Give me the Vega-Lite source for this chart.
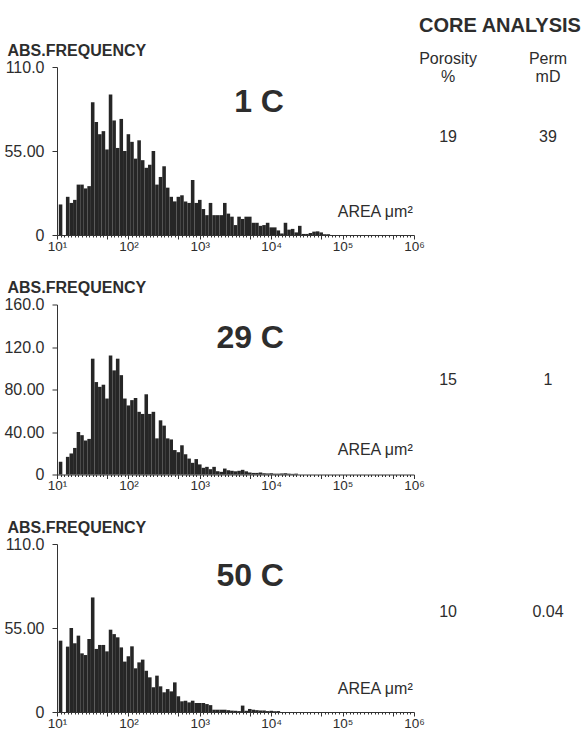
{
  "$schema": "https://vega.github.io/schema/vega-lite/v6.json",
  "padding": {"top": 15, "left": 3, "right": 0, "bottom": 0},
  "background": "white",
  "config": {
    "view": {"stroke": null},
    "font": "Liberation Sans",
    "axis": {"grid": false, "domainColor": "#333333", "tickColor": "#333333", "labelColor": "#2d2d2d", "titleColor": "#2d2d2d", "labelFont": "Liberation Sans", "titleFont": "Liberation Sans"},
    "text": {"font": "Liberation Sans", "color": "#2d2d2d"}
  },
  "datasets": {
    "edges": [
      {"k":0,"lo":10.593,"hi":11.885},{"k":1,"lo":11.885,"hi":13.335},{"k":2,"lo":13.335,"hi":14.962},{"k":3,"lo":14.962,"hi":16.788},{"k":4,"lo":16.788,"hi":18.836},{"k":5,"lo":18.836,"hi":21.135},{"k":6,"lo":21.135,"hi":23.714},{"k":7,"lo":23.714,"hi":26.607},{"k":8,"lo":26.607,"hi":29.854},{"k":9,"lo":29.854,"hi":33.497},
      {"k":10,"lo":33.497,"hi":37.584},{"k":11,"lo":37.584,"hi":42.170},{"k":12,"lo":42.170,"hi":47.315},{"k":13,"lo":47.315,"hi":53.088},{"k":14,"lo":53.088,"hi":59.566},{"k":15,"lo":59.566,"hi":66.834},{"k":16,"lo":66.834,"hi":74.989},{"k":17,"lo":74.989,"hi":84.140},{"k":18,"lo":84.140,"hi":94.406},{"k":19,"lo":94.406,"hi":105.93},
      {"k":20,"lo":105.93,"hi":118.85},{"k":21,"lo":118.85,"hi":133.35},{"k":22,"lo":133.35,"hi":149.62},{"k":23,"lo":149.62,"hi":167.88},{"k":24,"lo":167.88,"hi":188.36},{"k":25,"lo":188.36,"hi":211.35},{"k":26,"lo":211.35,"hi":237.14},{"k":27,"lo":237.14,"hi":266.07},{"k":28,"lo":266.07,"hi":298.54},{"k":29,"lo":298.54,"hi":334.97},
      {"k":30,"lo":334.97,"hi":375.84},{"k":31,"lo":375.84,"hi":421.70},{"k":32,"lo":421.70,"hi":473.15},{"k":33,"lo":473.15,"hi":530.88},{"k":34,"lo":530.88,"hi":595.66},{"k":35,"lo":595.66,"hi":668.34},{"k":36,"lo":668.34,"hi":749.89},{"k":37,"lo":749.89,"hi":841.40},{"k":38,"lo":841.40,"hi":944.06},{"k":39,"lo":944.06,"hi":1059.3},
      {"k":40,"lo":1059.3,"hi":1188.5},{"k":41,"lo":1188.5,"hi":1333.5},{"k":42,"lo":1333.5,"hi":1496.2},{"k":43,"lo":1496.2,"hi":1678.8},{"k":44,"lo":1678.8,"hi":1883.6},{"k":45,"lo":1883.6,"hi":2113.5},{"k":46,"lo":2113.5,"hi":2371.4},{"k":47,"lo":2371.4,"hi":2660.7},{"k":48,"lo":2660.7,"hi":2985.4},{"k":49,"lo":2985.4,"hi":3349.7},
      {"k":50,"lo":3349.7,"hi":3758.4},{"k":51,"lo":3758.4,"hi":4217.0},{"k":52,"lo":4217.0,"hi":4731.5},{"k":53,"lo":4731.5,"hi":5308.8},{"k":54,"lo":5308.8,"hi":5956.6},{"k":55,"lo":5956.6,"hi":6683.4},{"k":56,"lo":6683.4,"hi":7498.9},{"k":57,"lo":7498.9,"hi":8414.0},{"k":58,"lo":8414.0,"hi":9440.6},{"k":59,"lo":9440.6,"hi":10593},
      {"k":60,"lo":10593,"hi":11885},{"k":61,"lo":11885,"hi":13335},{"k":62,"lo":13335,"hi":14962},{"k":63,"lo":14962,"hi":16788},{"k":64,"lo":16788,"hi":18836},{"k":65,"lo":18836,"hi":21135},{"k":66,"lo":21135,"hi":23714},{"k":67,"lo":23714,"hi":26607},{"k":68,"lo":26607,"hi":29854},{"k":69,"lo":29854,"hi":33497},
      {"k":70,"lo":33497,"hi":37584},{"k":71,"lo":37584,"hi":42170},{"k":72,"lo":42170,"hi":47315},{"k":73,"lo":47315,"hi":53088},{"k":74,"lo":53088,"hi":59566},{"k":75,"lo":59566,"hi":66834}
    ],
    "hist": [
      {"s":"1 C","k":0,"n":20},{"s":"1 C","k":2,"n":25},{"s":"1 C","k":3,"n":21},{"s":"1 C","k":4,"n":23},{"s":"1 C","k":5,"n":33},{"s":"1 C","k":6,"n":33},{"s":"1 C","k":7,"n":30.5},{"s":"1 C","k":8,"n":32},{"s":"1 C","k":9,"n":87},
      {"s":"1 C","k":10,"n":74},{"s":"1 C","k":11,"n":66},{"s":"1 C","k":12,"n":68},{"s":"1 C","k":13,"n":56},{"s":"1 C","k":14,"n":92},{"s":"1 C","k":15,"n":75},{"s":"1 C","k":16,"n":57},{"s":"1 C","k":17,"n":76},{"s":"1 C","k":18,"n":55},{"s":"1 C","k":19,"n":66},
      {"s":"1 C","k":20,"n":61},{"s":"1 C","k":21,"n":50},{"s":"1 C","k":22,"n":62},{"s":"1 C","k":23,"n":49},{"s":"1 C","k":24,"n":44},{"s":"1 C","k":25,"n":46},{"s":"1 C","k":26,"n":55},{"s":"1 C","k":27,"n":33},{"s":"1 C","k":28,"n":38},{"s":"1 C","k":29,"n":45},
      {"s":"1 C","k":30,"n":31},{"s":"1 C","k":31,"n":25},{"s":"1 C","k":32,"n":22},{"s":"1 C","k":33,"n":25},{"s":"1 C","k":34,"n":26},{"s":"1 C","k":35,"n":22},{"s":"1 C","k":36,"n":21},{"s":"1 C","k":37,"n":36},{"s":"1 C","k":38,"n":21},{"s":"1 C","k":39,"n":23},
      {"s":"1 C","k":40,"n":17},{"s":"1 C","k":41,"n":13},{"s":"1 C","k":42,"n":21},{"s":"1 C","k":43,"n":13},{"s":"1 C","k":44,"n":13},{"s":"1 C","k":45,"n":13},{"s":"1 C","k":46,"n":21},{"s":"1 C","k":47,"n":14},{"s":"1 C","k":48,"n":12},{"s":"1 C","k":49,"n":6.5},
      {"s":"1 C","k":50,"n":12},{"s":"1 C","k":51,"n":10.5},{"s":"1 C","k":52,"n":12},{"s":"1 C","k":53,"n":12},{"s":"1 C","k":54,"n":8},{"s":"1 C","k":55,"n":8},{"s":"1 C","k":56,"n":6},{"s":"1 C","k":57,"n":6.5},{"s":"1 C","k":58,"n":8},{"s":"1 C","k":59,"n":5},
      {"s":"1 C","k":60,"n":5},{"s":"1 C","k":61,"n":3},{"s":"1 C","k":62,"n":1},{"s":"1 C","k":63,"n":8},{"s":"1 C","k":64,"n":3.5},{"s":"1 C","k":65,"n":4},{"s":"1 C","k":66,"n":1.7},{"s":"1 C","k":67,"n":6},{"s":"1 C","k":68,"n":0.7},{"s":"1 C","k":69,"n":0.7},
      {"s":"1 C","k":70,"n":1.3},{"s":"1 C","k":71,"n":2.2},{"s":"1 C","k":72,"n":2.4},{"s":"1 C","k":73,"n":1.7},{"s":"1 C","k":74,"n":0.5},{"s":"1 C","k":75,"n":0.5},

      {"s":"29 C","k":0,"n":12},{"s":"29 C","k":2,"n":16.6},{"s":"29 C","k":3,"n":19.8},{"s":"29 C","k":4,"n":25},{"s":"29 C","k":5,"n":40},{"s":"29 C","k":6,"n":37},{"s":"29 C","k":7,"n":32},{"s":"29 C","k":8,"n":33.5},{"s":"29 C","k":9,"n":109},
      {"s":"29 C","k":10,"n":87},{"s":"29 C","k":11,"n":82.5},{"s":"29 C","k":12,"n":84.5},{"s":"29 C","k":13,"n":71.5},{"s":"29 C","k":14,"n":112},{"s":"29 C","k":15,"n":98},{"s":"29 C","k":16,"n":109},{"s":"29 C","k":17,"n":93.5},{"s":"29 C","k":18,"n":71.5},{"s":"29 C","k":19,"n":65},
      {"s":"29 C","k":20,"n":70},{"s":"29 C","k":21,"n":72},{"s":"29 C","k":22,"n":59},{"s":"29 C","k":23,"n":57},{"s":"29 C","k":24,"n":75.5},{"s":"29 C","k":25,"n":57},{"s":"29 C","k":26,"n":59},{"s":"29 C","k":27,"n":34},{"s":"29 C","k":28,"n":51},{"s":"29 C","k":29,"n":46},
      {"s":"29 C","k":30,"n":34},{"s":"29 C","k":31,"n":33},{"s":"29 C","k":32,"n":23},{"s":"29 C","k":33,"n":21},{"s":"29 C","k":34,"n":27.5},{"s":"29 C","k":35,"n":19},{"s":"29 C","k":36,"n":15},{"s":"29 C","k":37,"n":11},{"s":"29 C","k":38,"n":14.5},{"s":"29 C","k":39,"n":9.5},
      {"s":"29 C","k":40,"n":6.3},{"s":"29 C","k":41,"n":7.2},{"s":"29 C","k":42,"n":5},{"s":"29 C","k":43,"n":7.2},{"s":"29 C","k":44,"n":3.1},{"s":"29 C","k":45,"n":2.5},{"s":"29 C","k":46,"n":5.6},{"s":"29 C","k":47,"n":4},{"s":"29 C","k":48,"n":3.5},{"s":"29 C","k":49,"n":3},
      {"s":"29 C","k":50,"n":3.5},{"s":"29 C","k":51,"n":4.4},{"s":"29 C","k":52,"n":3},{"s":"29 C","k":53,"n":1.9},{"s":"29 C","k":54,"n":1.5},{"s":"29 C","k":55,"n":1.5},{"s":"29 C","k":56,"n":1.9},{"s":"29 C","k":57,"n":1.2},{"s":"29 C","k":58,"n":1},{"s":"29 C","k":59,"n":1.2},
      {"s":"29 C","k":60,"n":0.8},{"s":"29 C","k":61,"n":0.8},{"s":"29 C","k":62,"n":1},{"s":"29 C","k":63,"n":1.2},{"s":"29 C","k":64,"n":0.8},{"s":"29 C","k":65,"n":0.6},{"s":"29 C","k":66,"n":0.8},

      {"s":"50 C","k":0,"n":46.7},{"s":"50 C","k":2,"n":42.8},{"s":"50 C","k":3,"n":55},{"s":"50 C","k":4,"n":45},{"s":"50 C","k":5,"n":50},{"s":"50 C","k":6,"n":38.4},{"s":"50 C","k":7,"n":37.3},{"s":"50 C","k":8,"n":47.8},{"s":"50 C","k":9,"n":75},
      {"s":"50 C","k":10,"n":41.3},{"s":"50 C","k":11,"n":43.9},{"s":"50 C","k":12,"n":43.9},{"s":"50 C","k":13,"n":39.7},{"s":"50 C","k":14,"n":53.9},{"s":"50 C","k":15,"n":51},{"s":"50 C","k":16,"n":48.9},{"s":"50 C","k":17,"n":42.3},{"s":"50 C","k":18,"n":33},{"s":"50 C","k":19,"n":36.5},
      {"s":"50 C","k":20,"n":43},{"s":"50 C","k":21,"n":28.6},{"s":"50 C","k":22,"n":32.5},{"s":"50 C","k":23,"n":34.3},{"s":"50 C","k":24,"n":27},{"s":"50 C","k":25,"n":22.7},{"s":"50 C","k":26,"n":16.2},{"s":"50 C","k":27,"n":23.8},{"s":"50 C","k":28,"n":16.8},{"s":"50 C","k":29,"n":12.9},
      {"s":"50 C","k":30,"n":15},{"s":"50 C","k":31,"n":13.5},{"s":"50 C","k":32,"n":19.4},{"s":"50 C","k":33,"n":10.3},{"s":"50 C","k":34,"n":7},{"s":"50 C","k":35,"n":7.4},{"s":"50 C","k":36,"n":6.3},{"s":"50 C","k":37,"n":7.4},{"s":"50 C","k":38,"n":5.9},{"s":"50 C","k":39,"n":5.9},
      {"s":"50 C","k":40,"n":5.9},{"s":"50 C","k":41,"n":5.2},{"s":"50 C","k":42,"n":4.5},{"s":"50 C","k":43,"n":1.5},{"s":"50 C","k":44,"n":1.5},{"s":"50 C","k":45,"n":1.5},{"s":"50 C","k":46,"n":1.5},{"s":"50 C","k":47,"n":1.2},{"s":"50 C","k":48,"n":0.9},{"s":"50 C","k":49,"n":0.8},
      {"s":"50 C","k":50,"n":0.6},{"s":"50 C","k":51,"n":4.2},{"s":"50 C","k":52,"n":0.8},{"s":"50 C","k":53,"n":2},{"s":"50 C","k":54,"n":1.5},{"s":"50 C","k":55,"n":1.2},{"s":"50 C","k":56,"n":1},{"s":"50 C","k":57,"n":1},{"s":"50 C","k":58,"n":0.6},{"s":"50 C","k":59,"n":0.8},
      {"s":"50 C","k":60,"n":0.5},{"s":"50 C","k":61,"n":0.6}
    ],
    "table": [
      {"s":"1 C","porosity":"19","perm":"39"},
      {"s":"29 C","porosity":"15","perm":"1"},
      {"s":"50 C","porosity":"10","perm":"0.04"}
    ]
  },
  "vconcat": [
    {
      "width": 357, "height": 168,
      "layer": [
        {
          "data": {"name": "hist"},
          "transform": [{"filter": "datum.s === '1 C'"}, {"lookup": "k", "from": {"data": {"name": "edges"}, "key": "k", "fields": ["lo", "hi"]}}],
          "mark": {"type": "rect", "color": "#262626"},
          "encoding": {
            "x": {"field": "lo", "type": "quantitative", "scale": {"type": "log", "domain": [10, 1000000]},
              "axis": {"title": null, "values": [10,11.22,12.589,14.125,15.849,17.783,19.953,22.387,25.119,28.184,31.623,35.481,39.811,44.668,50,56.234,63.096,70.795,79.433,89.125,100,112.2,125.89,141.25,158.49,177.83,199.53,223.87,251.19,281.84,316.23,354.81,398.11,446.68,500,562.34,630.96,707.95,794.33,891.25,1000,1122,1258.9,1412.5,1584.9,1778.3,1995.3,2238.7,2511.9,2818.4,3162.3,3548.1,3981.1,4466.8,5000,5623.4,6309.6,7079.5,7943.3,8912.5,10000,11220,12589,14125,15849,17783,19953,22387,25119,28184,31623,35481,39811,44668,50000,56234,63096,70795,79433,89125,100000,112200,125890,141250,158490,177830,199530,223870,251190,281840,316230,354810,398110,446680,500000,562340,630960,707950,794330,891250,1000000],
                "labelExpr": "abs(log(datum.value)/LN10 - round(log(datum.value)/LN10)) < 0.0001 ? '10' + ['⁰','¹','²','³','⁴','⁵','⁶'][round(log(datum.value)/LN10)] : ''",
                "tickSize": {"condition": {"test": "abs(log(datum.value)/LN10 - round(log(datum.value)/LN10)) < 0.0001 || abs(log(datum.value/5)/LN10 - round(log(datum.value/5)/LN10)) < 0.0001", "value": 4}, "value": 2},
                "labelPadding": 0, "labelFontSize": 13.5, "labelOverlap": false, "labelFlush": false, "labelBound": false}},
            "x2": {"field": "hi"},
            "y": {"field": "n", "type": "quantitative", "scale": {"domain": [0, 110]},
              "axis": {"values": [0, 55, 110], "format": ".4r", "title": "ABS.FREQUENCY", "titleAngle": 0, "titleAlign": "left", "titleBaseline": "alphabetic", "titleX": -50, "titleY": -12, "titleFontSize": 16, "titleFontWeight": "bold", "labelFontSize": 16, "tickSize": 5, "labelPadding": 8}},
            "y2": {"datum": 0}
          }
        },
        {
          "data": {"name": "table"},
          "transform": [{"filter": "datum.s === '1 C'"}],
          "mark": {"type": "text", "fontSize": 32, "fontWeight": "bold", "align": "right", "baseline": "alphabetic"},
          "encoding": {"x": {"datum": 15100, "type": "quantitative"}, "y": {"datum": 80.5, "type": "quantitative"}, "text": {"field": "s"}}
        },
        {
          "data": {"name": "table"},
          "transform": [{"filter": "datum.s === '1 C'"}],
          "mark": {"type": "text", "fontSize": 16, "align": "right", "baseline": "alphabetic", "text": "AREA μm²"},
          "encoding": {"x": {"datum": 960000, "type": "quantitative"}, "y": {"datum": 11.8, "type": "quantitative"}}
        },
        {
          "data": {"name": "table"},
          "transform": [{"filter": "datum.s === '1 C'"}],
          "mark": {"type": "text", "fontSize": 16, "align": "center", "baseline": "alphabetic"},
          "encoding": {"x": {"datum": 3000000, "type": "quantitative"}, "y": {"datum": 60.9, "type": "quantitative"}, "text": {"field": "porosity"}}
        },
        {
          "data": {"name": "table"},
          "transform": [{"filter": "datum.s === '1 C'"}],
          "mark": {"type": "text", "fontSize": 16, "align": "center", "baseline": "alphabetic"},
          "encoding": {"x": {"datum": 75300000, "type": "quantitative"}, "y": {"datum": 60.9, "type": "quantitative"}, "text": {"field": "perm"}}
        },
        {
          "data": {"name": "table"},
          "transform": [{"filter": "datum.s === '1 C'"}],
          "mark": {"type": "text", "fontSize": 20, "fontWeight": "bold", "align": "center", "baseline": "alphabetic", "text": "CORE ANALYSIS"},
          "encoding": {"x": {"datum": 16000000, "type": "quantitative"}, "y": {"datum": 133, "type": "quantitative"}}
        },
        {
          "data": {"name": "table"},
          "transform": [{"filter": "datum.s === '1 C'"}],
          "mark": {"type": "text", "fontSize": 16, "align": "center", "baseline": "alphabetic", "text": "Porosity"},
          "encoding": {"x": {"datum": 3000000, "type": "quantitative"}, "y": {"datum": 112, "type": "quantitative"}}
        },
        {
          "data": {"name": "table"},
          "transform": [{"filter": "datum.s === '1 C'"}],
          "mark": {"type": "text", "fontSize": 16, "align": "center", "baseline": "alphabetic", "text": "%"},
          "encoding": {"x": {"datum": 3000000, "type": "quantitative"}, "y": {"datum": 100.2, "type": "quantitative"}}
        },
        {
          "data": {"name": "table"},
          "transform": [{"filter": "datum.s === '1 C'"}],
          "mark": {"type": "text", "fontSize": 16, "align": "center", "baseline": "alphabetic", "text": "Perm"},
          "encoding": {"x": {"datum": 75300000, "type": "quantitative"}, "y": {"datum": 112, "type": "quantitative"}}
        },
        {
          "data": {"name": "table"},
          "transform": [{"filter": "datum.s === '1 C'"}],
          "mark": {"type": "text", "fontSize": 16, "align": "center", "baseline": "alphabetic", "text": "mD"},
          "encoding": {"x": {"datum": 75300000, "type": "quantitative"}, "y": {"datum": 100.2, "type": "quantitative"}}
        }
      ]
    },
    {
      "width": 357, "height": 170,
      "layer": [
        {
          "data": {"name": "hist"},
          "transform": [{"filter": "datum.s === '29 C'"}, {"lookup": "k", "from": {"data": {"name": "edges"}, "key": "k", "fields": ["lo", "hi"]}}],
          "mark": {"type": "rect", "color": "#262626"},
          "encoding": {
            "x": {"field": "lo", "type": "quantitative", "scale": {"type": "log", "domain": [10, 1000000]},
              "axis": {"title": null, "values": [10,11.22,12.589,14.125,15.849,17.783,19.953,22.387,25.119,28.184,31.623,35.481,39.811,44.668,50,56.234,63.096,70.795,79.433,89.125,100,112.2,125.89,141.25,158.49,177.83,199.53,223.87,251.19,281.84,316.23,354.81,398.11,446.68,500,562.34,630.96,707.95,794.33,891.25,1000,1122,1258.9,1412.5,1584.9,1778.3,1995.3,2238.7,2511.9,2818.4,3162.3,3548.1,3981.1,4466.8,5000,5623.4,6309.6,7079.5,7943.3,8912.5,10000,11220,12589,14125,15849,17783,19953,22387,25119,28184,31623,35481,39811,44668,50000,56234,63096,70795,79433,89125,100000,112200,125890,141250,158490,177830,199530,223870,251190,281840,316230,354810,398110,446680,500000,562340,630960,707950,794330,891250,1000000],
                "labelExpr": "abs(log(datum.value)/LN10 - round(log(datum.value)/LN10)) < 0.0001 ? '10' + ['⁰','¹','²','³','⁴','⁵','⁶'][round(log(datum.value)/LN10)] : ''",
                "tickSize": {"condition": {"test": "abs(log(datum.value)/LN10 - round(log(datum.value)/LN10)) < 0.0001 || abs(log(datum.value/5)/LN10 - round(log(datum.value/5)/LN10)) < 0.0001", "value": 4}, "value": 2},
                "labelPadding": 0, "labelFontSize": 13.5, "labelOverlap": false, "labelFlush": false, "labelBound": false}},
            "x2": {"field": "hi"},
            "y": {"field": "n", "type": "quantitative", "scale": {"domain": [0, 160]},
              "axis": {"values": [0, 40, 80, 120, 160], "format": ".4r", "title": "ABS.FREQUENCY", "titleAngle": 0, "titleAlign": "left", "titleBaseline": "alphabetic", "titleX": -50, "titleY": -12, "titleFontSize": 16, "titleFontWeight": "bold", "labelFontSize": 16, "tickSize": 5, "labelPadding": 8}},
            "y2": {"datum": 0}
          }
        },
        {
          "data": {"name": "table"},
          "transform": [{"filter": "datum.s === '29 C'"}],
          "mark": {"type": "text", "fontSize": 32, "fontWeight": "bold", "align": "right", "baseline": "alphabetic"},
          "encoding": {"x": {"datum": 15100, "type": "quantitative"}, "y": {"datum": 119.5, "type": "quantitative"}, "text": {"field": "s"}}
        },
        {
          "data": {"name": "table"},
          "transform": [{"filter": "datum.s === '29 C'"}],
          "mark": {"type": "text", "fontSize": 16, "align": "right", "baseline": "alphabetic", "text": "AREA μm²"},
          "encoding": {"x": {"datum": 960000, "type": "quantitative"}, "y": {"datum": 17.9, "type": "quantitative"}}
        },
        {
          "data": {"name": "table"},
          "transform": [{"filter": "datum.s === '29 C'"}],
          "mark": {"type": "text", "fontSize": 16, "align": "center", "baseline": "alphabetic"},
          "encoding": {"x": {"datum": 3000000, "type": "quantitative"}, "y": {"datum": 84.7, "type": "quantitative"}, "text": {"field": "porosity"}}
        },
        {
          "data": {"name": "table"},
          "transform": [{"filter": "datum.s === '29 C'"}],
          "mark": {"type": "text", "fontSize": 16, "align": "center", "baseline": "alphabetic"},
          "encoding": {"x": {"datum": 75300000, "type": "quantitative"}, "y": {"datum": 84.7, "type": "quantitative"}, "text": {"field": "perm"}}
        }
      ]
    },
    {
      "width": 357, "height": 168,
      "layer": [
        {
          "data": {"name": "hist"},
          "transform": [{"filter": "datum.s === '50 C'"}, {"lookup": "k", "from": {"data": {"name": "edges"}, "key": "k", "fields": ["lo", "hi"]}}],
          "mark": {"type": "rect", "color": "#262626"},
          "encoding": {
            "x": {"field": "lo", "type": "quantitative", "scale": {"type": "log", "domain": [10, 1000000]},
              "axis": {"title": null, "values": [10,11.22,12.589,14.125,15.849,17.783,19.953,22.387,25.119,28.184,31.623,35.481,39.811,44.668,50,56.234,63.096,70.795,79.433,89.125,100,112.2,125.89,141.25,158.49,177.83,199.53,223.87,251.19,281.84,316.23,354.81,398.11,446.68,500,562.34,630.96,707.95,794.33,891.25,1000,1122,1258.9,1412.5,1584.9,1778.3,1995.3,2238.7,2511.9,2818.4,3162.3,3548.1,3981.1,4466.8,5000,5623.4,6309.6,7079.5,7943.3,8912.5,10000,11220,12589,14125,15849,17783,19953,22387,25119,28184,31623,35481,39811,44668,50000,56234,63096,70795,79433,89125,100000,112200,125890,141250,158490,177830,199530,223870,251190,281840,316230,354810,398110,446680,500000,562340,630960,707950,794330,891250,1000000],
                "labelExpr": "abs(log(datum.value)/LN10 - round(log(datum.value)/LN10)) < 0.0001 ? '10' + ['⁰','¹','²','³','⁴','⁵','⁶'][round(log(datum.value)/LN10)] : ''",
                "tickSize": {"condition": {"test": "abs(log(datum.value)/LN10 - round(log(datum.value)/LN10)) < 0.0001 || abs(log(datum.value/5)/LN10 - round(log(datum.value/5)/LN10)) < 0.0001", "value": 4}, "value": 2},
                "labelPadding": 0, "labelFontSize": 13.5, "labelOverlap": false, "labelFlush": false, "labelBound": false}},
            "x2": {"field": "hi"},
            "y": {"field": "n", "type": "quantitative", "scale": {"domain": [0, 110]},
              "axis": {"values": [0, 55, 110], "format": ".4r", "title": "ABS.FREQUENCY", "titleAngle": 0, "titleAlign": "left", "titleBaseline": "alphabetic", "titleX": -50, "titleY": -12, "titleFontSize": 16, "titleFontWeight": "bold", "labelFontSize": 16, "tickSize": 5, "labelPadding": 8}},
            "y2": {"datum": 0}
          }
        },
        {
          "data": {"name": "table"},
          "transform": [{"filter": "datum.s === '50 C'"}],
          "mark": {"type": "text", "fontSize": 32, "fontWeight": "bold", "align": "right", "baseline": "alphabetic"},
          "encoding": {"x": {"datum": 15100, "type": "quantitative"}, "y": {"datum": 82.5, "type": "quantitative"}, "text": {"field": "s"}}
        },
        {
          "data": {"name": "table"},
          "transform": [{"filter": "datum.s === '50 C'"}],
          "mark": {"type": "text", "fontSize": 16, "align": "right", "baseline": "alphabetic", "text": "AREA μm²"},
          "encoding": {"x": {"datum": 960000, "type": "quantitative"}, "y": {"datum": 11.8, "type": "quantitative"}}
        },
        {
          "data": {"name": "table"},
          "transform": [{"filter": "datum.s === '50 C'"}],
          "mark": {"type": "text", "fontSize": 16, "align": "center", "baseline": "alphabetic"},
          "encoding": {"x": {"datum": 3000000, "type": "quantitative"}, "y": {"datum": 62.2, "type": "quantitative"}, "text": {"field": "porosity"}}
        },
        {
          "data": {"name": "table"},
          "transform": [{"filter": "datum.s === '50 C'"}],
          "mark": {"type": "text", "fontSize": 16, "align": "center", "baseline": "alphabetic"},
          "encoding": {"x": {"datum": 75300000, "type": "quantitative"}, "y": {"datum": 62.2, "type": "quantitative"}, "text": {"field": "perm"}}
        }
      ]
    }
  ],
  "spacing": 69.5,
  "bounds": "flush"
}
